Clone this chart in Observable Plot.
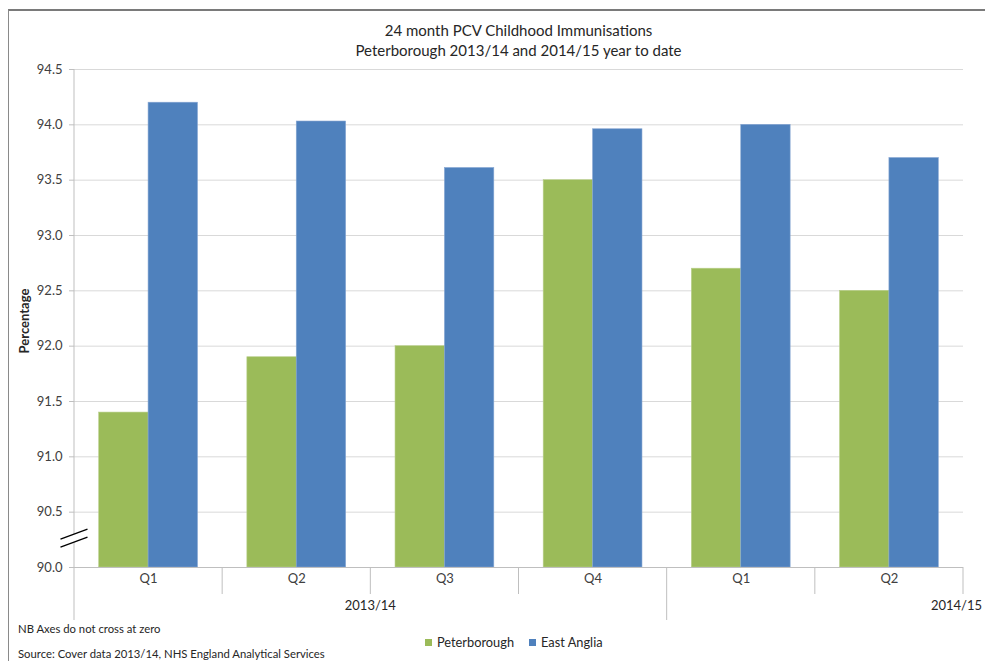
<!DOCTYPE html>
<html>
<head>
<meta charset="utf-8">
<script src="https://cdn.jsdelivr.net/npm/d3@7"></script>
<script src="https://cdn.jsdelivr.net/npm/@observablehq/plot@0.6"></script>
<style>
  html, body { margin: 0; padding: 0; background: #fff; }
  #wrap { position: relative; width: 985px; height: 661px; overflow: hidden; font-family: Lato, "Liberation Sans", sans-serif; color: #262626; }
  #border { position: absolute; left: 8px; top: 9px; width: 1200px; height: 900px; border-left: 1px solid #8a8a8a; border-top: 2px solid #7a7a7a; }
  #chart { position: absolute; left: 0; top: 0; }
  .title { position: absolute; left: 74px; width: 889px; text-align: center; font-size: 15px; line-height: 20px; top: 20px; }
  .note { position: absolute; left: 18px; font-size: 11.3px; white-space: nowrap; }
  .legend { position: absolute; top: 634px; left: 425px; font-size: 12.8px; display: flex; align-items: center; white-space: nowrap; }
  .legend .sw { display: inline-block; width: 7px; height: 7px; margin-right: 5px; }
  .legend .item { display: flex; align-items: center; margin-right: 15px; }
</style>
</head>
<body>
<div id="wrap">
  <div id="border"></div>
  <div id="chart"></div>
  <div class="title">24 month PCV Childhood Immunisations<br>Peterborough 2013/14 and 2014/15 year to date</div>
  <div class="note" style="top:622px">NB Axes do not cross at zero</div>
  <div class="legend" id="legend"></div>
  <div class="note" style="top:647px">Source: Cover data 2013/14, NHS England Analytical Services</div>
</div>
<script>
// ---- data ----
const periods = ["Q1", "Q2", "Q3", "Q4", "Q1", "Q2"];
const years = ["2013/14", "2013/14", "2013/14", "2013/14", "2014/15", "2014/15"];
const seriesNames = ["Peterborough", "East Anglia"];
const peterborough = [91.4, 91.9, 92.0, 93.5, 92.7, 92.5];
const eastAnglia = [94.2, 94.03, 93.61, 93.96, 94.0, 93.7];
const yTicks = [90.0, 90.5, 91.0, 91.5, 92.0, 92.5, 93.0, 93.5, 94.0, 94.5];
const yBase = 90.0;
const colors = ["#9BBB59", "#4F81BD"];

// ---- build table ----
const keys = periods.map((p, i) => years[i] + " " + p);
const rows = [];
keys.forEach((k, i) => {
  rows.push({key: k, series: seriesNames[0], value: peterborough[i]});
  rows.push({key: k, series: seriesNames[1], value: eastAnglia[i]});
});

const W = 985, H = 661;
const mL = 74, mR = 22, mT = 69, mB = 94;
const padIn = 1 / 3, padOut = 1 / 6;
const step = (W - mL - mR) / (keys.length - padIn + 2 * padOut);
const half = step * (1 - padIn) / 2;

const plot = Plot.plot({
  width: W,
  height: H,
  marginLeft: mL,
  marginRight: mR,
  marginTop: mT,
  marginBottom: mB,
  style: {fontFamily: "Lato, 'Liberation Sans', sans-serif", fontSize: "13px", color: "#404040", background: "transparent"},
  x: {type: "band", domain: keys, paddingInner: padIn, paddingOuter: padOut, round: false, axis: null},
  y: {domain: [yBase, yTicks[yTicks.length - 1]], axis: null},
  marks: [
    Plot.gridY(yTicks, {stroke: "#d9d9d9", strokeOpacity: 1, strokeWidth: 1}),
    Plot.axisY(yTicks, {tickSize: 5, tickPadding: 7, stroke: "#bfbfbf", fill: "#404040", tickFormat: d => d.toFixed(1), label: null, fontSize: 13}),
    Plot.barY(rows.filter(d => d.series === seriesNames[0]), {
      x: "key", y1: () => yBase, y2: "value", fill: colors[0], insetRight: half, stroke: "#b9cf8c", strokeWidth: 0.6
    }),
    Plot.barY(rows.filter(d => d.series === seriesNames[1]), {
      x: "key", y1: () => yBase, y2: "value", fill: colors[1], insetLeft: half, stroke: "#86a6d2", strokeWidth: 0.6
    }),
    Plot.ruleY([yBase], {stroke: "#bfbfbf", strokeWidth: 1}),
    Plot.text(keys, {x: d => d, text: (d, i) => periods[i], frameAnchor: "bottom", dy: 15, fill: "#404040", fontSize: 13})
  ]
});
document.getElementById("chart").appendChild(plot);

// ---- axis decorations drawn from the plot's scales ----
const xs = plot.scale("x");
const ys = plot.scale("y");
const svg = d3.select(plot);
const g = svg.append("g");
const leftOf = i => xs.apply(keys[i]) - step * padIn / 2;
const y0 = ys.apply(yBase);
const yTop = ys.apply(yTicks[yTicks.length - 1]);
const shortLen = 27, longLen = 53;

// y axis line
g.append("line").attr("x1", leftOf(0)).attr("x2", leftOf(0)).attr("y1", yTop).attr("y2", y0)
  .attr("stroke", "#bfbfbf");

// category separators
for (let i = 0; i <= keys.length; i++) {
  const x = i < keys.length ? leftOf(i) : leftOf(keys.length - 1) + step;
  const groupStart = i === 0 || (i < keys.length && years[i] !== years[i - 1]);
  g.append("line").attr("x1", x).attr("x2", x).attr("y1", y0).attr("y2", y0 + (groupStart ? longLen : shortLen))
    .attr("stroke", "#bfbfbf");
}

// year group labels
const uniqueYears = [...new Set(years)];
uniqueYears.forEach((yr, j) => {
  const idx = years.map((y, i) => y === yr ? i : -1).filter(i => i >= 0);
  const a = leftOf(idx[0]), b = leftOf(idx[idx.length - 1]) + step;
  const last = j === uniqueYears.length - 1;
  g.append("text")
    .attr("x", last ? b + 19 : (a + b) / 2)
    .attr("y", y0 + 43)
    .attr("text-anchor", last ? "end" : "middle")
    .attr("fill", "#262626")
    .attr("font-size", 13)
    .text(yr);
});

// y axis title
g.append("text")
  .attr("transform", `translate(26,${(yTop + y0) / 2 + 3}) rotate(-90)`)
  .attr("text-anchor", "middle")
  .attr("dominant-baseline", "middle")
  .attr("font-weight", "bold")
  .attr("font-size", 13)
  .attr("fill", "#262626")
  .text("Percentage");

// axis break symbol
const bx = leftOf(0), by = ys.apply(90.26);
const dxh = 13.5, dyh = 5, gap = 4;
g.append("path")
  .attr("d", `M${bx - dxh},${by - gap + dyh}L${bx + dxh},${by - gap - dyh}L${bx + dxh},${by + gap - dyh}L${bx - dxh},${by + gap + dyh}Z`)
  .attr("fill", "#fff");
[-gap, gap].forEach(o => {
  g.append("line")
    .attr("x1", bx - dxh).attr("y1", by + o + dyh)
    .attr("x2", bx + dxh).attr("y2", by + o - dyh)
    .attr("stroke", "#000").attr("stroke-width", 1.3);
});

// legend
const legend = document.getElementById("legend");
seriesNames.forEach((s, i) => {
  const item = document.createElement("span");
  item.className = "item";
  item.innerHTML = `<span class="sw" style="background:${colors[i]}"></span>${s}`;
  legend.appendChild(item);
});
</script>
</body>
</html>
